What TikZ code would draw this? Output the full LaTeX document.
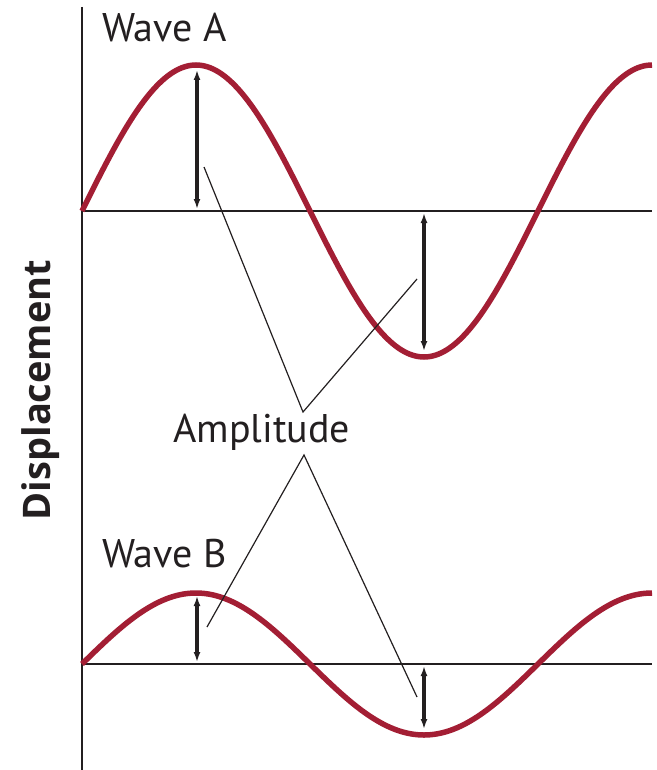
\documentclass[tikz,border=0pt]{standalone}
\usepackage{fontspec}
\setmainfont{PT Sans}
\newfontfamily\dispfont{Open Sans}
\usetikzlibrary{arrows.meta}
\definecolor{wavered}{RGB}{163,30,52}
\definecolor{inkgray}{RGB}{35,31,32}
\tikzset{
  wave/.style={wavered,line width=5.5pt},
  amparrow/.style={{Latex[length=10pt,width=7pt]}-{Latex[length=10pt,width=7pt]},line width=3.2pt,inkgray},
  leader/.style={line width=1.2pt,inkgray},
  axis/.style={line width=1.4pt,inkgray},
  lbl/.style={font=\fontsize{40}{48}\selectfont,text=inkgray,inner sep=0pt}
}
\begin{document}
\begin{tikzpicture}[x=1pt,y=-1pt]
  \useasboundingbox (0,0) rectangle (656,770);
  % axes
  \draw[axis] (82,7) -- (82,770);
  \foreach \zero in {211,664}
    \draw[axis] (82,\zero) -- (652,\zero);
  % the two waves
  \foreach \zero/\amp in {211/146,664/71}
    \draw[wave] plot[domain=0:450,samples=121,smooth] ({82+1.26667*\x},{\zero-\amp*sin(\x)});
  % labels
  \node[lbl,anchor=base west] (waveA) at (102,42) {Wave A};
  \node[lbl,anchor=base west] (waveB) at (102,567) {Wave B};
  \node[lbl,anchor=base west] (amp) at (173,442) {Amplitude};
  \node[lbl,font=\dispfont\fontsize{38}{46}\selectfont\bfseries,rotate=90,anchor=base] (disp) at (50,390) {Displacement};
  % amplitude arrows
  \coordinate (aTop1) at (197,70);  \coordinate (aBot1) at (197,209);
  \coordinate (aTop2) at (424,213); \coordinate (aBot2) at (424,351);
  \coordinate (bTop1) at (197,596); \coordinate (bBot1) at (197,662);
  \coordinate (bTop2) at (424,666); \coordinate (bBot2) at (424,729);
  \foreach \a/\b in {aTop1/aBot1,aTop2/aBot2,bTop1/bBot1,bTop2/bBot2}
    \draw[amparrow] (\a) -- (\b);
  % leader lines
  \coordinate (ampT) at (303,412);
  \coordinate (ampB) at (304,455);
  \coordinate (endA1) at (204,167); \coordinate (endA2) at (417,279);
  \coordinate (endB1) at (207,627); \coordinate (endB2) at (417,697);
  \draw[leader] (endA1) -- (ampT) -- (endA2);
  \draw[leader] (endB1) -- (ampB) -- (endB2);
\end{tikzpicture}
\end{document}
